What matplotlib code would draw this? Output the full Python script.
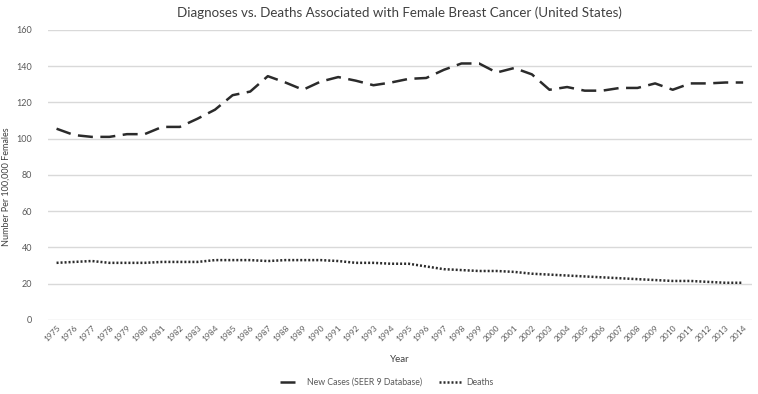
import matplotlib
matplotlib.use("Agg")
import matplotlib.pyplot as plt
import numpy as np

years = [str(y) for y in range(1975, 2015)]
new_cases = [105.5, 102, 101, 101, 102.5, 102.5, 106.5, 106.5, 111, 116,
             124, 126, 134.5, 131, 127, 131.5, 134, 132, 129.5, 131,
             133, 133.5, 138, 141.5, 141.5, 136.5, 139, 135.5, 127, 128.5,
             126.5, 126.5, 128, 128, 130.5, 127, 130.5, 130.5, 131, 131]
deaths = [31.5, 32, 32.5, 31.5, 31.5, 31.5, 32, 32, 32, 33,
          33, 33, 32.5, 33, 33, 33, 32.5, 31.5, 31.5, 31,
          31, 29.5, 28, 27.5, 27, 27, 26.5, 25.5, 25, 24.5,
          24, 23.5, 23, 22.5, 22, 21.5, 21.5, 21, 20.5, 20.5]
yticks = [0, 20, 40, 60, 80, 100, 120, 140, 160]

plt.rcParams['font.family'] = ['Lato', 'DejaVu Sans']

fig = plt.figure(figsize=(7.58, 3.94), dpi=100)
ax = fig.add_axes([0.063, 0.188, 0.929, 0.736])

x = np.arange(len(years))
ax.plot(x, new_cases, color='#2b2b2b', lw=1.8, dashes=(6, 3), label='New Cases (SEER 9 Database)')
ax.plot(x, deaths, color='#2b2b2b', lw=1.8, dashes=(0.8, 0.8), label='Deaths')

ax.set_xlim(-0.5, len(years) - 0.5)
ax.set_ylim(0, 160)
ax.set_yticks(yticks)
ax.set_xticks(x)
ax.set_xticklabels(years, rotation=45, ha='right', rotation_mode='anchor', fontsize=6, color='#595959')
ax.tick_params(axis='y', labelsize=6.5, colors='#595959', length=0, pad=11)
ax.tick_params(axis='x', length=0, pad=3)
ax.grid(axis='y', color='#d9d9d9', lw=1)
ax.set_axisbelow(True)
for s in ax.spines.values():
    s.set_visible(False)

ax.set_title('Diagnoses vs. Deaths Associated with Female Breast Cancer (United States)',
             fontsize=9.6, color='#404040', pad=9)
ax.set_xlabel('Year', fontsize=7, color='#404040', labelpad=9)
ax.set_ylabel('Number Per 100,000 Females', fontsize=6.5, color='#404040')
ax.yaxis.set_label_coords(-0.052, 0.46)

leg = fig.legend(loc='center', bbox_to_anchor=(0.51, 0.03), ncol=2, frameon=False,
                 fontsize=6.3, handlelength=2.6, handletextpad=0.5, columnspacing=2)
for t in leg.get_texts():
    t.set_color('#595959')

fig.savefig('out.png', dpi=100)
